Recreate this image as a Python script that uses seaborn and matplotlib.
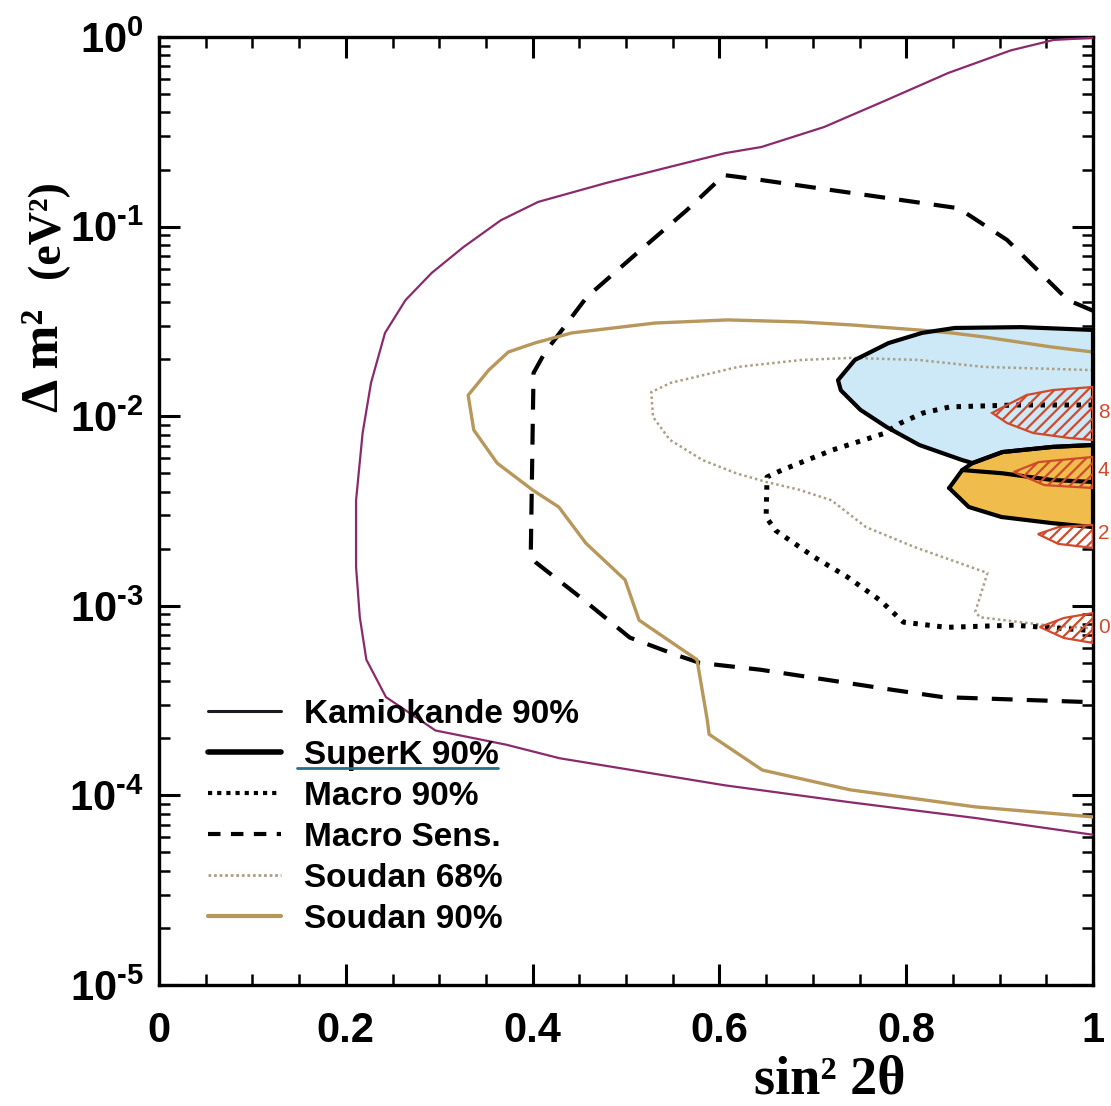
import matplotlib
matplotlib.use("Agg")
import matplotlib.pyplot as plt
from matplotlib.lines import Line2D
from matplotlib.ticker import MultipleLocator, FixedLocator, LogLocator, NullFormatter
import pandas as pd
import seaborn as sns

# ---------------- data: sin^2(2θ) vs Δm^2 (eV^2) ----------------
kam_x = [1.0, 0.958, 0.912, 0.845, 0.779, 0.712, 0.645, 0.606, 0.546, 0.479, 0.406,
         0.366, 0.326, 0.292, 0.264, 0.242, 0.227, 0.218, 0.211, 0.211, 0.215, 0.222,
         0.243, 0.296, 0.372, 0.429, 0.606, 0.740, 0.874, 1.0]
kam_y = [0.99, 0.965, 0.85, 0.646, 0.465, 0.335, 0.263, 0.244, 0.206, 0.17, 0.135,
         0.108, 0.078, 0.057, 0.041, 0.0275, 0.015, 0.00815, 0.00361, 0.0016, 8.7e-4, 5.2e-4,
         3.3e-4, 2.2e-4, 1.85e-4, 1.57e-4, 1.13e-4, 9.2e-5, 7.6e-5, 6.2e-5]

msens_x = [1.0, 0.973, 0.908, 0.856, 0.645, 0.605, 0.565, 0.512, 0.458, 0.413, 0.401,
           0.398, 0.403, 0.451, 0.504, 0.554, 0.579, 0.644, 0.697, 0.786, 0.839, 1.0]
msens_y = [0.036, 0.041, 0.085, 0.125, 0.176, 0.187, 0.122, 0.0726, 0.0425, 0.0216, 0.0169,
           0.0018, 0.0017, 0.00111, 6.8e-4, 5.5e-4, 5.0e-4, 4.6e-4, 4.2e-4, 3.6e-4, 3.3e-4, 3.1e-4]

s90_x = [1.0, 0.955, 0.883, 0.848, 0.813, 0.741, 0.688, 0.609, 0.531, 0.442, 0.402, 0.374,
         0.353, 0.331, 0.337, 0.362, 0.40, 0.428, 0.457, 0.499, 0.514, 0.576, 0.587, 0.589,
         0.646, 0.740, 0.874, 1.0]
s90_y = [0.0218, 0.0232, 0.0262, 0.0275, 0.0285, 0.0303, 0.0314, 0.0322, 0.031, 0.0275, 0.0243, 0.0218,
         0.0175, 0.0129, 0.00846, 0.00566, 0.00408, 0.00332, 0.00214, 0.00137, 8.4e-4, 5.2e-4, 2.5e-4, 2.1e-4,
         1.36e-4, 1.07e-4, 8.7e-5, 7.7e-5]

s68_x = [1.0, 0.883, 0.813, 0.741, 0.688, 0.62, 0.548, 0.527, 0.529, 0.547, 0.582, 0.618,
         0.65, 0.685, 0.72, 0.757, 0.809, 0.887, 0.874, 0.879, 0.95, 1.0]
s68_y = [0.0175, 0.0182, 0.0198, 0.0203, 0.0198, 0.0182, 0.015, 0.0134, 0.0099, 0.0075, 0.00587, 0.005,
         0.0045, 0.0041, 0.0036, 0.0026, 0.00204, 0.00149, 9.3e-4, 8.7e-4, 7.9e-4, 7.6e-4]

m90_x = [1.0, 0.919, 0.847, 0.818, 0.794, 0.776, 0.721, 0.667, 0.651, 0.65, 0.66, 0.702,
         0.737, 0.772, 0.797, 0.843, 0.915, 1.0]
m90_y = [0.01146, 0.01146, 0.0112, 0.0104, 0.0092, 0.0081, 0.00663, 0.0052, 0.00478, 0.00294, 0.0025, 0.0018,
         0.00142, 0.00107, 8.2e-4, 7.7e-4, 7.9e-4, 7.4e-4]

# SuperK allowed regions
skb_x = [1.0, 0.923, 0.852, 0.817, 0.781, 0.745, 0.727, 0.73, 0.751, 0.779, 0.814, 0.86,
         0.871, 0.903, 0.957, 1.0]
skb_y = [0.0285, 0.0295, 0.0292, 0.0275, 0.0243, 0.0198, 0.0155, 0.0137, 0.0108, 0.00877, 0.00705, 0.00587,
         0.00566, 0.00647, 0.00689, 0.00705]

sko_x = [0.846, 0.86, 0.871, 0.903, 0.957, 1.0, 1.0, 0.956, 0.902, 0.867]
sko_y = [0.00418, 0.0052, 0.00566, 0.00647, 0.00689, 0.00705, 0.0026, 0.00273, 0.00294, 0.00332]
sko_inner_x = [0.86, 0.903, 0.956, 1.0]
sko_inner_y = [0.0052, 0.005, 0.00461, 0.0045]

# hand-marked lenses at sin^2 2θ = 1
lens_labels = ["8", "4", "2", "0"]
lens_x = [[0.892, 0.908, 0.929, 0.957, 1.0, 1.0, 0.975, 0.936, 0.908],
          [0.915, 0.942, 1.0, 1.0, 0.948],
          [0.941, 0.963, 1.0, 1.0, 0.963],
          [0.943, 0.969, 1.0, 1.0, 0.969]]
lens_y = [[0.0104, 0.01146, 0.01294, 0.01374, 0.01426, 0.00749, 0.00767, 0.00815, 0.0092],
          [0.00508, 0.00573, 0.0061, 0.00418, 0.00433],
          [0.00239, 0.0026, 0.00267, 0.00202, 0.00212],
          [7.73e-4, 8.63e-4, 9.16e-4, 6.37e-4, 6.76e-4]]
lens_label_y = [0.0104, 0.0052, 0.0024, 7.7e-4]

x_ticks = [0, 0.2, 0.4, 0.6, 0.8, 1.0]
x_tick_labels = ["0", "0.2", "0.4", "0.6", "0.8", "1"]
y_ticks = [1e-5, 1e-4, 1e-3, 1e-2, 1e-1, 1e0]
y_tick_labels = [r"$10^{\text{-5}}$", r"$10^{\text{-4}}$", r"$10^{\text{-3}}$",
                 r"$10^{\text{-2}}$", r"$10^{\text{-1}}$", r"$10^{0}$"]

legend_labels = ["Kamiokande 90%", "SuperK 90%", "Macro 90%", "Macro Sens.",
                 "Soudan 68%", "Soudan 90%"]

# ---------------- style ----------------
sns.set_theme(style="ticks")
plt.rcParams["font.family"] = ["Liberation Sans", "DejaVu Sans"]
plt.rcParams["mathtext.fontset"] = "custom"
plt.rcParams["mathtext.rm"] = "Liberation Sans:bold"
plt.rcParams["mathtext.it"] = "Liberation Sans:bold:italic"
plt.rcParams["mathtext.bf"] = "Liberation Sans:bold"
plt.rcParams["mathtext.default"] = "rm"
for key in ("text.color", "axes.labelcolor", "xtick.color", "ytick.color", "axes.edgecolor"):
    plt.rcParams[key] = "black"
plt.rcParams["hatch.linewidth"] = 1.6

KAM = "#8a2a6c"
S90 = "#b7975a"
S68 = "#ab9f84"
BLUE = "#cde8f6"
ORANGE = "#f0bd4c"
RED = "#cf4b2c"

fig = plt.figure(figsize=(11.11, 11.06), dpi=100)
ax = fig.add_axes([159 / 1111, 1 - 985 / 1106, 934 / 1111, 948 / 1106])
ax.set_yscale("log")
ax.set_xlim(0, 1)
ax.set_ylim(1e-5, 1)


def curve(xs, ys, **kw):
    df = pd.DataFrame({"x": xs, "y": ys})
    sns.lineplot(data=df, x="x", y="y", sort=False, estimator=None, ax=ax, **kw)


# SuperK filled regions (beneath the other contours)
ax.fill(skb_x, skb_y, facecolor=BLUE, edgecolor="none", zorder=1)
ax.fill(sko_x, sko_y, facecolor=ORANGE, edgecolor="none", zorder=1)

curve(kam_x, kam_y, color=KAM, linewidth=1.6, zorder=3)
curve(msens_x, msens_y, color="black", linewidth=3.0, linestyle=(0, (5, 3.4)), zorder=3)
curve(s90_x, s90_y, color=S90, linewidth=2.4, zorder=3)
curve(s68_x, s68_y, color=S68, linewidth=1.8, linestyle=(0, (1, 1.2)), zorder=3)
curve(m90_x, m90_y, color="black", linewidth=3.6, linestyle=(0, (0.9, 1.5)), zorder=4)

# SuperK outlines
curve(skb_x + skb_x[:1], skb_y + skb_y[:1], color="black", linewidth=3.0, zorder=5)
curve(sko_x + sko_x[:1], sko_y + sko_y[:1], color="black", linewidth=3.0, zorder=5)
curve(sko_inner_x, sko_inner_y, color="black", linewidth=3.0, zorder=5)

# red hatched lenses and their labels
for lx, ly, lab, yl in zip(lens_x, lens_y, lens_labels, lens_label_y):
    ax.fill(lx, ly, facecolor="none", edgecolor=RED, hatch="///", linewidth=1.6, zorder=6)
    ax.text(1.005, yl, lab, color=RED, fontsize=15, ha="left", va="center",
            clip_on=False)

# ---------------- axes decoration ----------------
for s in ax.spines.values():
    s.set_linewidth(2.4)
    s.set_color("black")
ax.xaxis.set_major_locator(FixedLocator(x_ticks))
ax.xaxis.set_minor_locator(MultipleLocator(0.05))
ax.set_xticklabels(x_tick_labels, fontweight="bold")
ax.yaxis.set_major_locator(FixedLocator(y_ticks))
ax.yaxis.set_minor_locator(LogLocator(base=10, subs=range(2, 10)))
ax.yaxis.set_minor_formatter(NullFormatter())
ax.set_yticklabels(y_tick_labels)
ax.tick_params(which="both", direction="in", top=True, right=True, color="black")
ax.tick_params(which="major", length=15, width=2.2, labelsize=30)
ax.tick_params(which="minor", length=8, width=1.8)
ax.tick_params(axis="x", which="major", pad=19)
ax.tick_params(axis="y", which="major", pad=11)
ax.set_xlabel("")
ax.set_ylabel("")

fig.text(0.747, 1 - 1093 / 1106, "sin² 2θ", family="Liberation Serif", weight="bold",
         fontsize=39, ha="center", va="baseline")
fig.text(45 / 1111, 1 - 412 / 1106, "Δ m²", family="Liberation Serif", weight="bold",
         fontsize=38, rotation=90, ha="center", va="bottom")
fig.text(48 / 1111, 1 - 278 / 1106, "(eV²)", family="Liberation Serif", weight="bold",
         fontsize=33, rotation=90, ha="center", va="bottom")

# legend
handles = [
    Line2D([], [], color="#1e1a22", linewidth=2.2),
    Line2D([], [], color="black", linewidth=4.0),
    Line2D([], [], color="black", linewidth=3.0, linestyle=(0, (1, 1.2))),
    Line2D([], [], color="black", linewidth=3.0, linestyle=(0, (3, 2.5))),
    Line2D([], [], color=S68, linewidth=2.0, linestyle=(0, (1, 1.0))),
    Line2D([], [], color=S90, linewidth=3.0),
]
leg = ax.legend(handles, legend_labels, loc="upper left", bbox_to_anchor=(0.052, 0.302),
                frameon=False, fontsize=24, handlelength=2.2, handletextpad=0.7,
                labelspacing=0.3, borderpad=0, borderaxespad=0)
for t in leg.get_texts():
    t.set_fontweight("bold")

# underline under the SuperK entry
fig.add_artist(Line2D([297 / 1111, 498 / 1111], [1 - 768 / 1106, 1 - 768 / 1106],
                      color="#25708f", linewidth=2.0))

fig.savefig("out.png", dpi=100, facecolor="white")
